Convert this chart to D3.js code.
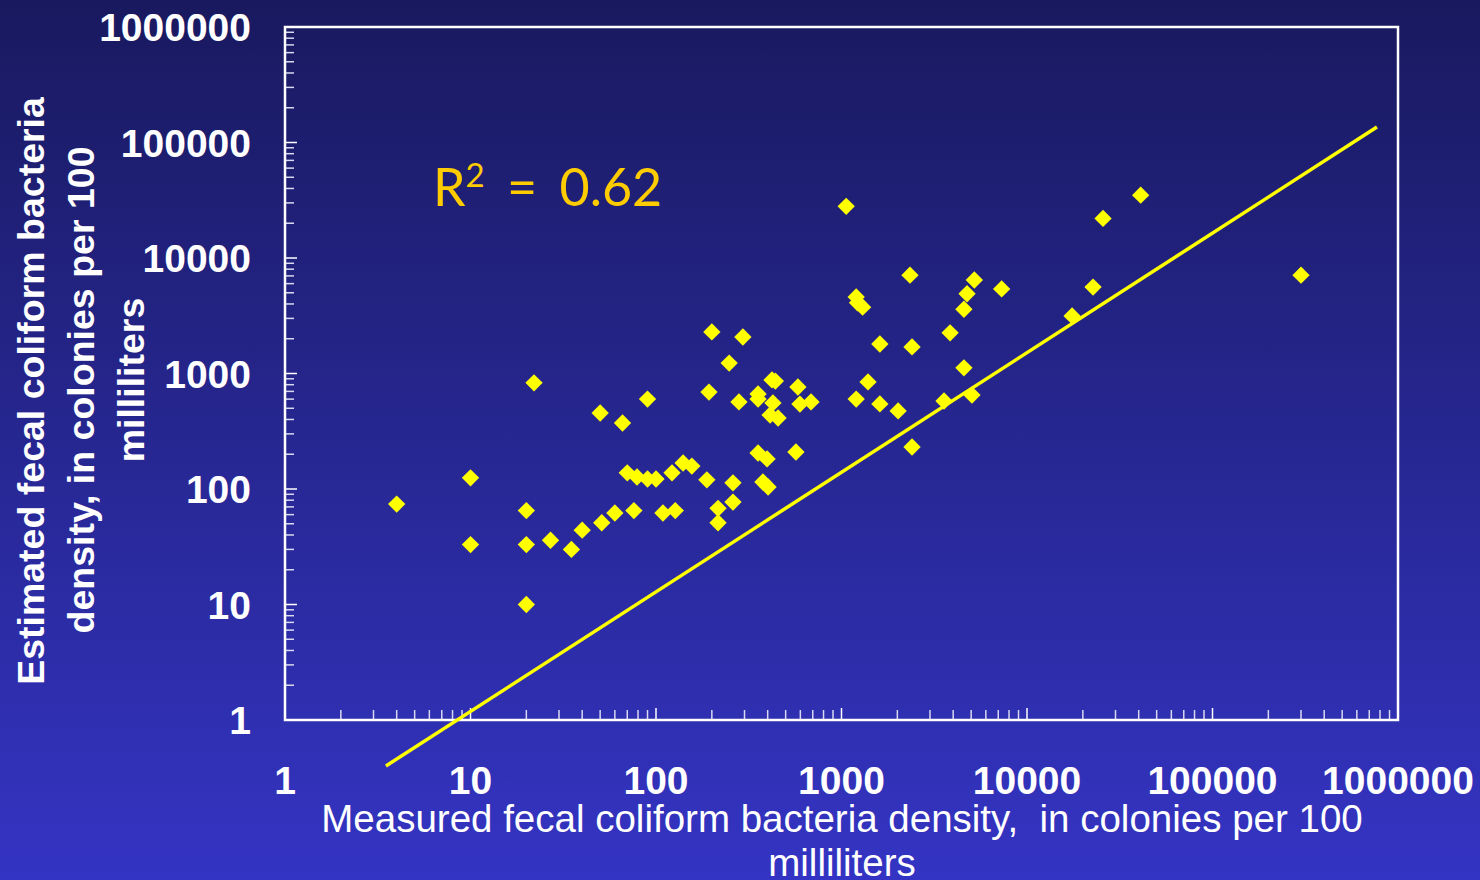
<!DOCTYPE html>
<html><head><meta charset="utf-8">
<script src="https://cdn.jsdelivr.net/npm/d3@7"></script>
<style>html,body{margin:0;padding:0;background:#1a1a63;}svg{display:block}</style>
</head><body>
<svg id="chart" width="1480" height="880"></svg>
<script>
// ---- data ----
const measured = [4,10,10,20,20,20,22,27,35,40,50,51,60,66,70,76,79,90,90,100,
  109,127,122,140,156,193,200,188,216,216,248,260,260,280,294,
  355,355,427,412,455,422,440,355,397,377,402,568,582,597,685,
  1060,1200,1220,1300,1200,1390,1610,1610,2020,2340,2400,2400,
  3570,3850,4570,4750,4570,5050,5200,7300,17500,22700,25700,41000,300000];
const estimated = [74,125,33,65,33,10,830,36,30,44,455,51,62,373,138,65,127,600,122,122,
  62,65,138,168,158,690,2290,120,68,51,1230,113,77,567,2070,
  665,600,556,437,412,880,860,205,182,115,104,209,764,544,567,
  28000,4600,4100,3750,600,845,1800,545,474,7100,1700,231,
  578,2250,3600,4900,1120,650,6450,5400,3150,5600,22000,35000,7100];
const fitX = [3.5, 770000];
const fitY = [0.40, 136000];
const tickValues = [1,10,100,1000,10000,100000,1000000];
const tickLabels = ["1","10","100","1000","10000","100000","1000000"];
const xTitle = ["Measured fecal coliform bacteria density,  in colonies per 100","milliliters"];
const yTitle = ["Estimated fecal coliform bacteria","density, in colonies per 100","milliliters"];
const r2Label = {base:"R", sup:"2", rest:" = 0.62"};

// ---- layout ----
const W = 1480, H = 880;
const L = 285, R = 1398, T = 27, B = 720;
const svg = d3.select("#chart");

const defs = svg.append("defs");
const grad = defs.append("linearGradient").attr("id","bg").attr("x1",0).attr("y1",0).attr("x2",0).attr("y2",1);
grad.append("stop").attr("offset","0%").attr("stop-color","#19195f");
grad.append("stop").attr("offset","100%").attr("stop-color","#3434c4");
svg.append("rect").attr("width",W).attr("height",H).attr("fill","url(#bg)");

const x = d3.scaleLog().domain([1,1000000]).range([L,R]);
const y = d3.scaleLog().domain([1,1000000]).range([B,T]);

// minor ticks
const minor = [];
for (let e=0;e<6;e++) for (let k=2;k<=9;k++) minor.push(k*Math.pow(10,e));

const g = svg.append("g");
g.selectAll(".xminor").data(minor).join("line")
  .attr("x1",d=>x(d)).attr("x2",d=>x(d)).attr("y1",B).attr("y2",B-10)
  .attr("stroke","#d8d8f0").attr("stroke-width",1.5);
g.selectAll(".xmajor").data(tickValues.slice(1,-1)).join("line")
  .attr("x1",d=>x(d)).attr("x2",d=>x(d)).attr("y1",B).attr("y2",B-12)
  .attr("stroke","#ffffff").attr("stroke-width",1.5);
g.selectAll(".yminor").data(minor).join("line")
  .attr("y1",d=>y(d)).attr("y2",d=>y(d)).attr("x1",L).attr("x2",L+9)
  .attr("stroke","#d8d8f0").attr("stroke-width",1.5);
g.selectAll(".ymajor").data(tickValues.slice(1,-1)).join("line")
  .attr("y1",d=>y(d)).attr("y2",d=>y(d)).attr("x1",L).attr("x2",L+12)
  .attr("stroke","#ffffff").attr("stroke-width",1.5);

// frame
svg.append("rect").attr("x",L).attr("y",T).attr("width",R-L).attr("height",B-T)
  .attr("fill","none").attr("stroke","#ffffff").attr("stroke-width",2.5);

// tick labels
const tickFont = "'Liberation Sans', Arial, sans-serif";
svg.selectAll(".ylab").data(tickValues).join("text")
  .attr("x",251).attr("y",d=>y(d)+14)
  .attr("text-anchor","end").attr("fill","#fff")
  .attr("font-family",tickFont).attr("font-weight","bold").attr("font-size",39)
  .text((d,i)=>tickLabels[i]);
svg.selectAll(".xlab").data(tickValues).join("text")
  .attr("x",d=>x(d)).attr("y",794)
  .attr("text-anchor","middle").attr("fill","#fff")
  .attr("font-family",tickFont).attr("font-weight","bold").attr("font-size",39)
  .text((d,i)=>tickLabels[i]);

// axis titles
svg.selectAll(".xt").data(xTitle).join("text")
  .attr("x",842).attr("y",(d,i)=>832+i*44)
  .attr("text-anchor","middle").attr("fill","#fff")
  .attr("font-family",tickFont).attr("font-size",38.5)
  .style("white-space","pre")
  .text(d=>d);
const yCenters = [391,390,380];
svg.selectAll(".yt").data(yTitle).join("text")
  .attr("transform",(d,i)=>`translate(${44+i*50},${yCenters[i]}) rotate(-90)`)
  .attr("text-anchor","middle").attr("fill","#fff")
  .attr("font-family",tickFont).attr("font-weight","bold").attr("font-size",37.5)
  .text(d=>d);

// regression line
svg.append("line")
  .attr("x1",x(fitX[0])).attr("y1",y(fitY[0]))
  .attr("x2",x(fitX[1])).attr("y2",y(fitY[1]))
  .attr("stroke","#ffff00").attr("stroke-width",3.5);

// points
const pts = measured.map((m,i)=>({m, e:estimated[i]}));
const sym = d3.symbol(d3.symbolSquare, 150);
svg.selectAll(".pt").data(pts).join("path")
  .attr("d",sym)
  .attr("transform",d=>`translate(${x(d.m)},${y(d.e)}) rotate(45)`)
  .attr("fill","#ffff00");

// R^2 label
const rt = svg.append("text").attr("x",433).attr("y",206)
  .attr("fill","#ffcc00").attr("font-family","Lato, 'Open Sans', sans-serif").attr("font-size",52)
  .attr("word-spacing",9).style("white-space","pre");
rt.append("tspan").text(r2Label.base);
rt.append("tspan").attr("dy",-19).attr("font-size",33).text(r2Label.sup);
rt.append("tspan").attr("dy",19).text(r2Label.rest);
</script>
</body></html>
